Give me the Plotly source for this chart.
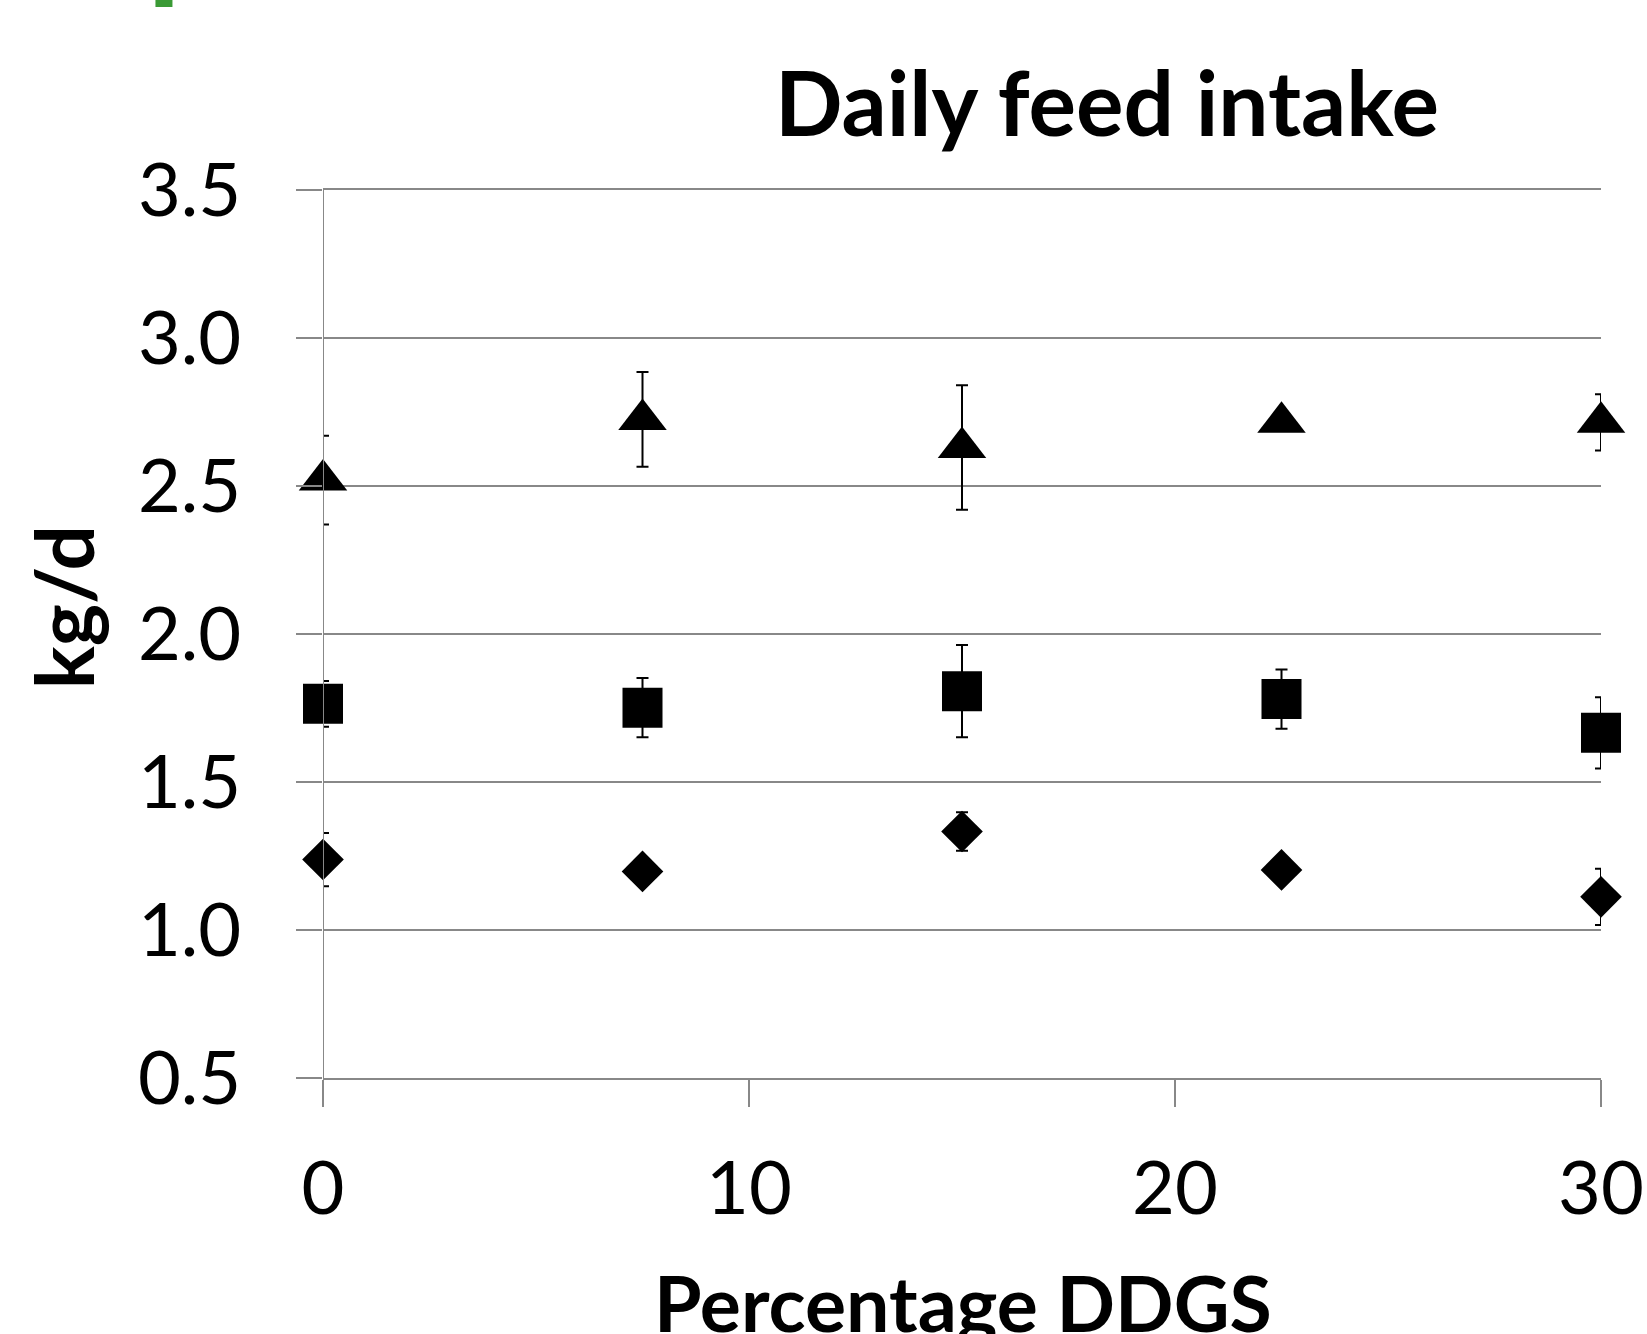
import plotly.graph_objects as go

# Data
ddgs = [0, 7.5, 15, 22.5, 30]
tri_vals = [2.52, 2.725, 2.63, 2.715, 2.715]
tri_err = [0.15, 0.16, 0.21, 0.02, 0.095]
sq_vals = [1.764, 1.751, 1.807, 1.78, 1.666]
sq_err = [0.077, 0.10, 0.156, 0.10, 0.12]
dia_vals = [1.238, 1.198, 1.333, 1.203, 1.112]
dia_err = [0.09, 0.03, 0.065, 0.03, 0.095]

x_ticks = [0, 10, 20, 30]
y_ticks = [0.5, 1.0, 1.5, 2.0, 2.5, 3.0, 3.5]
y_ticktext = ["0.5", "1.0", "1.5", "2.0", "2.5", "3.0", "3.5"]

FONT = "Lato"
grid = "#888888"

fig = go.Figure()

def add_series(vals, errs, symbol, size):
    fig.add_trace(go.Scatter(
        x=ddgs, y=vals, mode="markers",
        marker=dict(symbol=symbol, size=size, color="black", line=dict(width=0)),
        error_y=dict(type="data", array=errs, visible=True, color="black",
                     thickness=2, width=6),
        cliponaxis=False, showlegend=False,
    ))

add_series(dia_vals, dia_err, "diamond", 32)
add_series(sq_vals, sq_err, "square", 40)
add_series(tri_vals, tri_err, "triangle-up", 42)

fig.update_layout(
    width=1647, height=1334,
    margin=dict(l=323, r=46, t=190, b=256),
    paper_bgcolor="white", plot_bgcolor="white",
    font=dict(family=FONT, color="black"),
    xaxis=dict(
        range=[0, 30], tickvals=x_ticks, showgrid=False, zeroline=False,
        showline=True, linecolor=grid, linewidth=2, mirror=True,
        ticks="outside", ticklen=27, tickwidth=1.5, tickcolor=grid,
        tickfont=dict(size=74, family=FONT), ticklabelstandoff=18,
        automargin=False,
    ),
    yaxis=dict(
        range=[0.5, 3.5], tickvals=y_ticks, ticktext=y_ticktext,
        showgrid=True, gridcolor=grid, gridwidth=2, zeroline=False,
        showline=False, ticks="outside", ticklen=26, tickwidth=2, tickcolor=grid,
        tickfont=dict(size=74, family=FONT), ticklabelstandoff=40,
        automargin=False,
    ),
    shapes=[
        dict(type="line", xref="x", yref="paper", x0=0, x1=0, y0=0, y1=1,
             line=dict(color=grid, width=2)),
        dict(type="rect", xref="paper", yref="paper", x0=-0.1311, x1=-0.1178,
             y0=1.2061, y1=1.22, fillcolor="#3a9a35", line=dict(width=0)),
    ],
    annotations=[
        dict(text="<b>Daily feed intake</b>", xref="paper", yref="paper",
             x=(1107 - 323) / 1278, y=(1078 - 102) / 888, xanchor="center", yanchor="middle",
             showarrow=False, font=dict(size=89, family=FONT)),
        dict(text="<b>kg/d</b>", xref="paper", yref="paper",
             x=(63 - 323) / 1278, y=(1078 - 607) / 888, xanchor="center", yanchor="middle",
             textangle=-90, showarrow=False, font=dict(size=80, family=FONT)),
        dict(text="<b>Percentage DDGS</b>", xref="paper", yref="paper",
             x=(963 - 323) / 1278, y=(1078 - 1302) / 888, xanchor="center", yanchor="middle",
             showarrow=False, font=dict(size=77, family=FONT)),
    ],
)

fig.write_html("out.html")
